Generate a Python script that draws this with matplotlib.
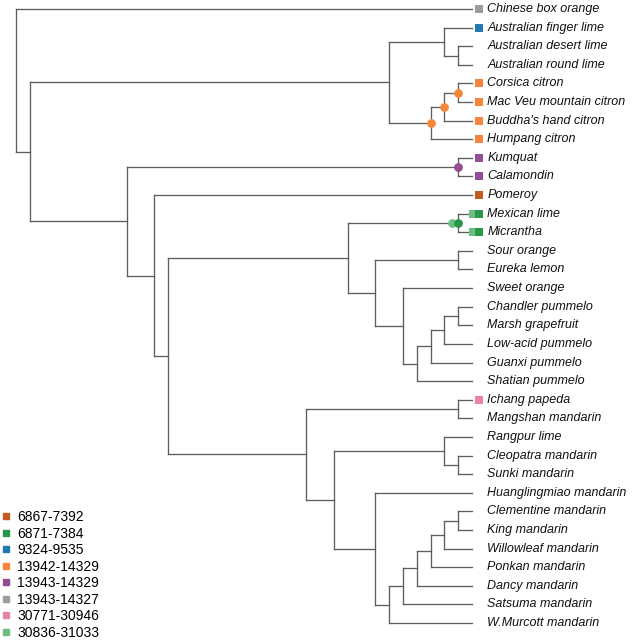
import matplotlib
matplotlib.use("Agg")
import matplotlib.pyplot as plt
from matplotlib.collections import LineCollection
from matplotlib.lines import Line2D

plt.rcParams['font.family'] = ['Liberation Sans', 'DejaVu Sans']

# tree topology with branch lengths (newick)
TREE = (
    "(Chinese box orange:33,"
    "(((Australian finger lime:2,(Australian desert lime:1,Australian round lime:1):1):4,"
    "(((Corsica citron:1,Mac Veu mountain citron:1):1,Buddha's hand citron:2):1,Humpang citron:3):3):26,"
    "((Kumquat:1,Calamondin:1):24,"
    "(Pomeroy:23,"
    "(((Mexican lime:1,Micrantha:1):8,"
    "((Sour orange:1,Eureka lemon:1):6,"
    "(Sweet orange:5,((((Chandler pummelo:1,Marsh grapefruit:1):1,Low-acid pummelo:2):1,"
    "Guanxi pummelo:3):1,Shatian pummelo:4):1):2):2):13,"
    "((Ichang papeda:1,Mangshan mandarin:1):11,"
    "((Rangpur lime:2,(Cleopatra mandarin:1,Sunki mandarin:1):1):8,"
    "(Huanglingmiao mandarin:7,((((((Clementine mandarin:1,King mandarin:1):1,Willowleaf mandarin:2):1,"
    "Ponkan mandarin:3):1,Dancy mandarin:4):1,Satsuma mandarin:5):1,W.Murcott mandarin:6):1):3):2):10"
    "):1):2):7):1);"
)

# legend groups (position ranges) and colours
groups = ["6867-7392", "6871-7384", "9324-9535", "13942-14329",
          "13943-14329", "13943-14327", "30771-30946", "30836-31033"]
group_colors = ["#c35a22", "#27984a", "#1f7bb0", "#f5873a",
                "#944c94", "#9c9c9c", "#e983a6", "#70bd82"]

# which tips carry which group squares
tip_groups = {
    "Chinese box orange": ["13943-14327"],
    "Australian finger lime": ["9324-9535"],
    "Corsica citron": ["13942-14329"],
    "Mac Veu mountain citron": ["13942-14329"],
    "Buddha's hand citron": ["13942-14329"],
    "Humpang citron": ["13942-14329"],
    "Kumquat": ["13943-14329"],
    "Calamondin": ["13943-14329"],
    "Pomeroy": ["6867-7392"],
    "Mexican lime": ["30836-31033", "6871-7384"],
    "Micrantha": ["30836-31033", "6871-7384"],
    "Ichang papeda": ["30771-30946"],
}

# internal nodes (given by two descendant tips) that carry group dots
node_groups = [
    (("Corsica citron", "Humpang citron"), ["13942-14329"]),
    (("Corsica citron", "Buddha's hand citron"), ["13942-14329"]),
    (("Corsica citron", "Mac Veu mountain citron"), ["13942-14329"]),
    (("Kumquat", "Calamondin"), ["13943-14329"]),
    (("Mexican lime", "Micrantha"), ["30836-31033", "6871-7384"]),
]


def parse_newick(s):
    pos = 0

    def node():
        nonlocal pos
        children = []
        if s[pos] == '(':
            pos += 1
            children.append(node())
            while s[pos] == ',':
                pos += 1
                children.append(node())
            pos += 1
        start = pos
        while s[pos] not in ':,);':
            pos += 1
        name = s[start:pos].strip()
        length = 0.0
        if s[pos] == ':':
            pos += 1
            start = pos
            while s[pos] not in ',);':
                pos += 1
            length = float(s[start:pos])
        return {'name': name, 'children': children, 'len': length}

    return node()


root = parse_newick(TREE)

leaves = []


def layout(nd, depth):
    nd['x'] = depth + nd['len']
    if not nd['children']:
        leaves.append(nd)
        nd['y'] = len(leaves)
        nd['tips'] = [nd['name']]
    else:
        for c in nd['children']:
            layout(c, nd['x'])
        ys = [c['y'] for c in nd['children']]
        nd['y'] = (min(ys) + max(ys)) / 2
        nd['tips'] = sum((c['tips'] for c in nd['children']), [])


layout(root, 0.0)

segs = []
internal = []


def collect(nd):
    if nd['children']:
        internal.append(nd)
        ys = [c['y'] for c in nd['children']]
        segs.append([(nd['x'], min(ys)), (nd['x'], max(ys))])
        for c in nd['children']:
            segs.append([(nd['x'], c['y']), (c['x'], c['y'])])
            collect(c)


collect(root)

color_of = dict(zip(groups, group_colors))

fig = plt.figure(figsize=(6.33, 6.40), dpi=100)
ax = fig.add_axes([0, 0, 1, 1])

ax.add_collection(LineCollection(segs, colors="#5e5e5e", linewidths=0.95,
                                 capstyle='projecting', zorder=1))

off = 0.45
for lf in leaves:
    gs = tip_groups.get(lf['name'], [])
    n = len(gs)
    for i, g in enumerate(gs):
        ax.scatter(lf['x'] + 0.5 - off * (n - 1 - i), lf['y'], marker='s', s=26,
                   color=color_of[g], linewidths=0, zorder=3)
    ax.text(lf['x'] + 1.1, lf['y'], lf['name'], fontsize=9, style='italic',
            va='center', ha='left', color='#111111')


def mrca(a, b):
    best = None
    for nd in internal:
        if a in nd['tips'] and b in nd['tips']:
            if best is None or len(nd['tips']) < len(best['tips']):
                best = nd
    return best


for (a, b), gs in node_groups:
    nd = mrca(a, b)
    n = len(gs)
    for i, g in enumerate(gs):
        ax.scatter(nd['x'] - off * (n - 1 - i), nd['y'], marker='o', s=40,
                   color=color_of[g], linewidths=0, zorder=4)

handles = [Line2D([], [], marker='s', ls='', color=c, markersize=5)
           for c in group_colors]
ax.legend(handles, groups, loc='lower left', bbox_to_anchor=(0.0, -0.004),
          frameon=False, fontsize=10, handlelength=0.5, handletextpad=0.55,
          labelspacing=0.18, borderpad=0.2, borderaxespad=0.0)

px = 13.82
ax.set_xlim(-16 / px, (633 - 16) / px)
ax.set_ylim(1 + (640 - 9) / 18.606, 1 - 9 / 18.606)
ax.axis('off')

fig.savefig("out.png", dpi=100)
